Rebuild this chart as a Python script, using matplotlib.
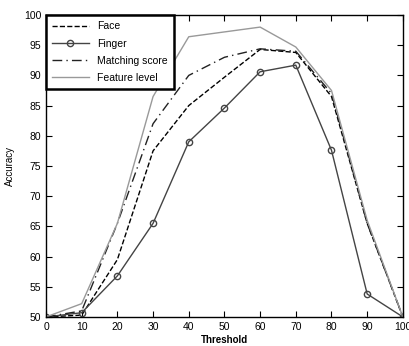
import numpy as np
import matplotlib
matplotlib.use('Agg')
from matplotlib import pyplot as plt

# values
threshold = [0, 10, 20, 30, 40, 50, 60, 70, 80, 90, 100]
face = [50, 50.3, 59.5, 77.5, 85, 89.7, 94.3, 93.8, 86.5, 65.5, 50]
finger = [50, 50.7, 56.8, 65.5, 79, 84.6, 90.6, 91.7, 77.6, 53.8, 50]
matching = [50, 51, 65.5, 82, 90, 93, 94.4, 94, 87, 65.5, 50]
feature = [50, 52.2, 65.5, 86.5, 96.4, 97.2, 98, 94.7, 87.5, 66, 50]

plt.rcParams['font.family'] = ['Liberation Sans', 'DejaVu Sans']
fig = plt.figure(figsize=(4.09, 3.46), dpi=100)
ax = fig.add_axes([0.1125, 0.084, 0.8725, 0.8726])

ax.plot(threshold, face, '--', color='black', linewidth=1.0, label='Face')
ax.plot(threshold, finger, '-', color='#444444', linewidth=1.0, marker='o',
        markersize=4.5, markerfacecolor='none', markeredgecolor='#444444', label='Finger')
ax.plot(threshold, matching, color='#222222', linewidth=1.0, dashes=(7, 3, 1, 3),
        label='Matching score')
ax.plot(threshold, feature, '-', color='#999999', linewidth=1.0, label='Feature level')

ax.set_xlim(0, 100)
ax.set_ylim(50, 100)
ax.set_xticks(np.arange(0, 101, 10))
ax.set_yticks(np.arange(50, 101, 5))
ax.tick_params(direction='in', top=True, right=True, labelsize=7.5, length=4)
for s in ax.spines.values():
    s.set_linewidth(1.0)
ax.set_xlabel('Threshold', fontsize=7, fontweight='bold', labelpad=2)
ax.set_ylabel('Accuracy', fontsize=7, labelpad=6)

leg = ax.legend(loc='upper left', fontsize=7.5, fancybox=False, framealpha=1,
                edgecolor='black', borderaxespad=0, handlelength=3.5,
                labelspacing=0.7, borderpad=0.6)
leg.get_frame().set_linewidth(1.8)

fig.savefig('out.png', dpi=100)
